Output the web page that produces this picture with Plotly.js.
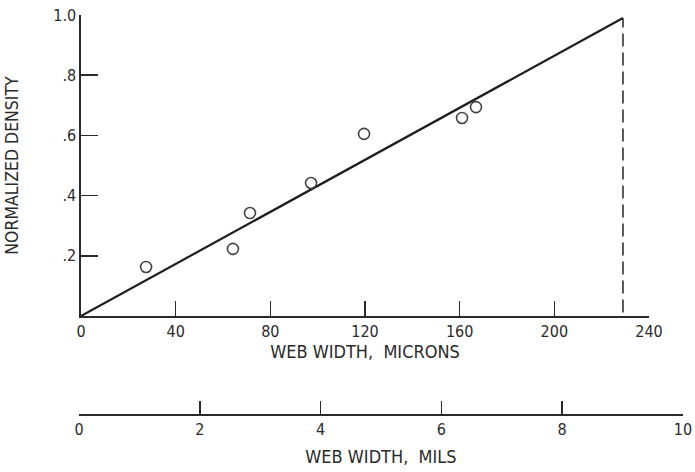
<!DOCTYPE html>
<html>
<head>
<meta charset="utf-8">
<script src="https://cdn.plot.ly/plotly-3.0.1.min.js"></script>
<style>html,body{margin:0;padding:0;background:#fff;}#chart{width:695px;height:472px;}</style>
</head>
<body>
<div id="chart"></div>
<script>
// Measured data (web width in microns vs normalized density)
var webWidthMicrons = [27.5, 64.2, 71.4, 97.2, 119.6, 161.0, 166.9];
var normalizedDensity = [0.163, 0.223, 0.342, 0.442, 0.605, 0.658, 0.694];
// Fitted straight line
var fitX = [0, 229];
var fitY = [0, 0.99];
// Dashed cutoff line
var cutoffX = [229, 229];
var cutoffY = [0.012, 0.99];
// Tick labels
var micronTicks = [0, 40, 80, 120, 160, 200, 240];
var micronTickText = ['0', '40', '80', '120', '160', '200', '240'];
var densityTicks = [0.2, 0.4, 0.6, 0.8, 1.0];
var densityTickText = ['.2', '.4', '.6', '.8', '1.0'];
var milRange = [0, 10];
var milTicks = [0, 2, 4, 6, 8, 10];
var milTickText = ['0', '2', '4', '6', '8', '10'];

var FONT = 'Liberation Sans Narrow, DejaVu Sans Condensed, Arial Narrow, sans-serif';
var INK = '#2a2a2a';

var traces = [
  {x: fitX, y: fitY, mode: 'lines', line: {color: '#1e1e1e', width: 2.2}, hoverinfo: 'skip', showlegend: false},
  {x: cutoffX, y: cutoffY, mode: 'lines', line: {color: '#333', width: 1.6, dash: '13px,6px'}, hoverinfo: 'skip', showlegend: false},
  {x: webWidthMicrons, y: normalizedDensity, mode: 'markers',
   marker: {symbol: 'circle-open', size: 11, color: '#444', line: {width: 1.6, color: '#444'}}, showlegend: false},
  {x: milRange, y: [0, 0], xaxis: 'x2', yaxis: 'y2', mode: 'markers', marker: {opacity: 0, size: 1}, hoverinfo: 'skip', showlegend: false}
];

var layout = {
  width: 695, height: 472,
  margin: {l: 79, r: 12, t: 15, b: 58},
  paper_bgcolor: '#fff', plot_bgcolor: '#fff',
  font: {family: FONT, color: INK, size: 16},
  showlegend: false,
  xaxis: {
    domain: [2/604, 570/604], range: [0, 240], anchor: 'y',
    showgrid: false, zeroline: false, showline: true, linecolor: INK, linewidth: 1.6,
    ticks: 'inside', ticklen: 15, tickwidth: 1.6, tickcolor: INK,
    tickmode: 'array', tickvals: micronTicks, ticktext: micronTickText,
    tickfont: {family: FONT, size: 16, color: INK},
    title: {text: 'WEB WIDTH,  MICRONS', font: {family: FONT, size: 18, color: INK}, standoff: 4}
  },
  yaxis: {
    domain: [98/399, 1], range: [0, 1.0], anchor: 'x',
    showgrid: false, zeroline: false, showline: true, linecolor: INK, linewidth: 1.6,
    ticks: 'inside', ticklen: 17, tickwidth: 1.6, tickcolor: INK,
    tickmode: 'array', tickvals: densityTicks, ticktext: densityTickText,
    tickfont: {family: FONT, size: 16, color: INK},
    title: {text: 'NORMALIZED DENSITY', font: {family: FONT, size: 17.5, color: INK}, standoff: 30}
  },
  xaxis2: {
    domain: [0, 1], range: milRange, anchor: 'y2',
    showgrid: false, zeroline: false, showline: true, linecolor: INK, linewidth: 1.6,
    ticks: 'inside', ticklen: 13, tickwidth: 1.6, tickcolor: INK,
    tickmode: 'array', tickvals: milTicks, ticktext: milTickText,
    tickfont: {family: FONT, size: 16, color: INK},
    title: {text: 'WEB WIDTH,  MILS', font: {family: FONT, size: 18, color: INK}, standoff: 12}
  },
  yaxis2: {
    domain: [0, 0.02], range: [0, 1], anchor: 'x2',
    visible: false, showgrid: false, zeroline: false, showline: false, showticklabels: false
  }
};

Plotly.newPlot('chart', traces, layout, {displayModeBar: false, staticPlot: true});
</script>
</body>
</html>
